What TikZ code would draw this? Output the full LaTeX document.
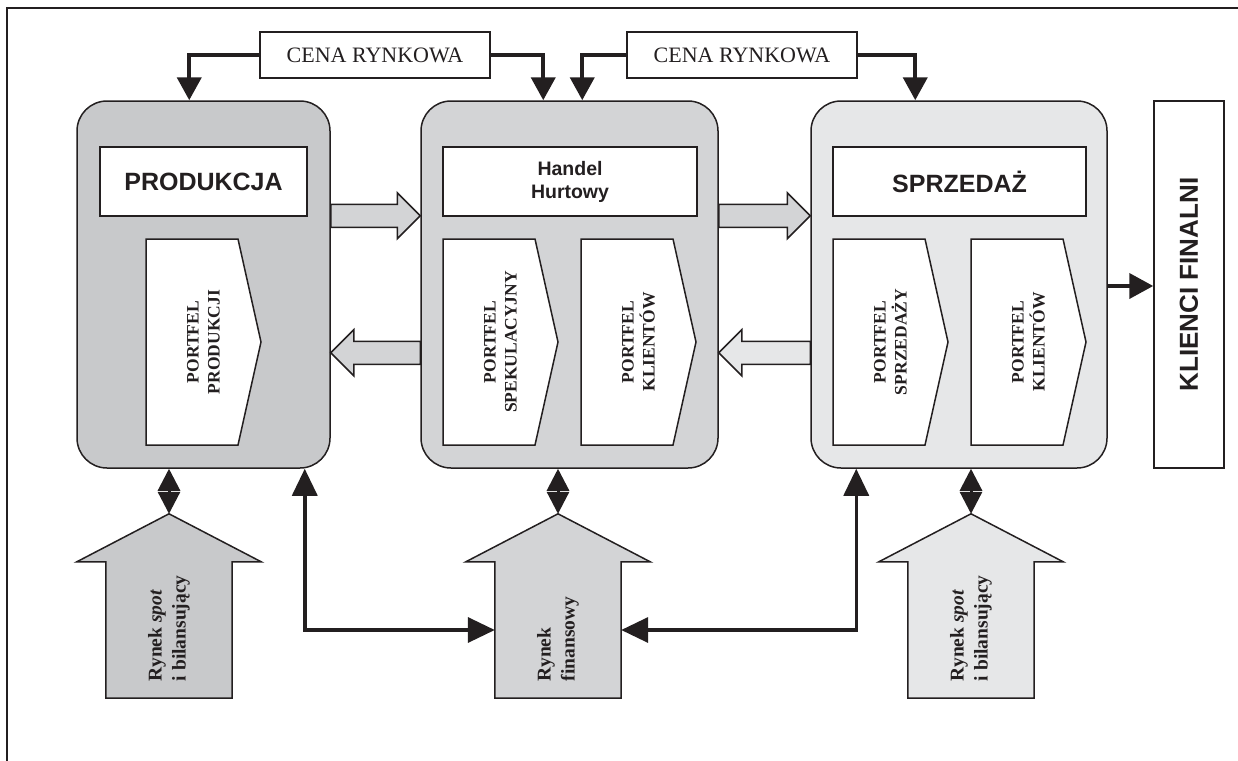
\documentclass[tikz,border=0pt]{standalone}
\usepackage{fontspec}
\setmainfont{Liberation Serif}
\setsansfont{Liberation Sans}
\usetikzlibrary{arrows.meta,calc}

\definecolor{ink}{HTML}{231F20}
\definecolor{greyA}{HTML}{C8C9CB}
\definecolor{greyB}{HTML}{D3D4D6}
\definecolor{greyC}{HTML}{E6E7E8}

% broad arrow pointing right: #1 start, #2 tip, #3 fill
\newcommand\fatright[3]{%
  \filldraw[outline, fill=#3] ($(#1)+(0,-11.5)$) -- ($(#2)+(-23,-11.5)$) -- ($(#2)+(-23,-23)$)
    -- (#2) -- ($(#2)+(-23,23)$) -- ($(#2)+(-23,11.5)$) -- ($(#1)+(0,11.5)$) -- cycle;}
% broad arrow pointing left: #1 start, #2 tip, #3 fill
\newcommand\fatleft[3]{%
  \filldraw[outline, fill=#3] ($(#1)+(0,-11.5)$) -- ($(#2)+(23,-11.5)$) -- ($(#2)+(23,-23)$)
    -- (#2) -- ($(#2)+(23,23)$) -- ($(#2)+(23,11.5)$) -- ($(#1)+(0,11.5)$) -- cycle;}
% portfolio tag: #1 name, #2 left x, #3 text
\newcommand\portfel[3]{%
  \filldraw[outline, fill=white] (#2,239) -- ++(92,0) -- ++(23,103) -- ++(-23,103) -- (#2,445) -- cycle;
  \node[ptext] (#1) at (#2+57.5,342) {#3};}
% market arrow pointing up: #1 name, #2 centre x, #3 fill, #4 text
\newcommand\market[4]{%
  \node[inner sep=0pt, minimum width=126pt, minimum height=136pt] (#1) at (#2,630) {};
  \filldraw[outline, fill=#3] (#1.south west) -- (#1.north west) -- ++(-29,0)
    -- ($(#1.north)+(0,-48)$) -- ($(#1.north east)+(29,0)$) -- (#1.north east) -- (#1.south east) -- cycle;
  \coordinate (#1tip) at ($(#1.north)+(0,-48)$);
  \node[rtext] (#1txt) at ($(#1.south)+(0,-17)$) {#4};}

\tikzset{
  outline/.style={draw=ink, line width=1.5pt, line join=miter},
  block/.style={outline, rounded corners=30pt, inner sep=0pt, minimum height=367pt},
  headbox/.style={outline, fill=white, inner sep=0pt, minimum height=69pt, align=center, text=ink,
    font=\sffamily\bfseries\fontsize{25}{30}\selectfont},
  cbox/.style={outline, fill=white, inner sep=0pt, minimum width=230pt, minimum height=46pt, text=ink,
    font=\fontsize{22}{26}\selectfont},
  ptext/.style={rotate=90, align=center, text=ink, inner sep=0pt,
    font=\bfseries\fontsize{17.5}{21}\selectfont},
  rtext/.style={rotate=90, anchor=west, align=left, text=ink, inner sep=0pt,
    font=\bfseries\fontsize{19.5}{24}\selectfont},
  price/.style={draw=ink, line width=4.3pt, -{Triangle[length=23pt,width=24pt]}},
  twoway/.style={draw=ink, line width=3pt,
    {Triangle[length=22pt,width=22pt]}-{Triangle[length=22pt,width=22pt]}},
  link/.style={draw=ink, line width=3.5pt,
    {Triangle[length=27pt,width=25pt]}-{Triangle[length=27pt,width=25pt]}},
  final/.style={draw=ink, line width=4pt, -{Triangle[length=24pt,width=25pt]}},
}

\begin{document}
\begin{tikzpicture}[x=1pt, y=-1pt]
\useasboundingbox (0,0) rectangle (1238,760);
% outer frame
\draw[draw=ink, line width=1.3pt] (7,8) rectangle (1260,790);

% the three stages
\node[block, fill=greyA, minimum width=253pt] (b1) at (203.5,284.5) {};
\node[block, fill=greyB, minimum width=297pt] (b2) at (569.5,284.5) {};
\node[block, fill=greyC, minimum width=296pt] (b3) at (959,284.5) {};

\node[headbox, minimum width=207pt] (h1) at (203.5,181.5) {PRODUKCJA};
\node[headbox, minimum width=254pt, font=\sffamily\bfseries\fontsize{19.5}{23}\selectfont] (h2) at (570,181.5) {Handel\\Hurtowy};
\node[headbox, minimum width=253pt] (h3) at (959.5,181.5) {SPRZEDAŻ};

\portfel{p1}{146}{PORTFEL\\PRODUKCJI}
\portfel{p2}{443}{PORTFEL\\SPEKULACYJNY}
\portfel{p3}{581}{PORTFEL\\KLIENTÓW}
\portfel{p4}{833}{PORTFEL\\SPRZEDAŻY}
\portfel{p5}{971}{PORTFEL\\KLIENTÓW}

% flows between the stages
\coordinate (f1s) at ($(b1.north east)+(0,115.5)$);
\coordinate (f1e) at ($(b2.north west)+(0,115.5)$);
\coordinate (f2s) at ($(b2.north east)+(0,115.5)$);
\coordinate (f2e) at ($(b3.north west)+(0,115.5)$);
\coordinate (g1s) at ($(b2.north west)+(0,252.5)$);
\coordinate (g1e) at ($(b1.north east)+(0,252.5)$);
\coordinate (g2s) at ($(b3.north west)+(0,252.5)$);
\coordinate (g2e) at ($(b2.north east)+(0,252.5)$);
\fatright{f1s}{f1e}{greyB}
\fatright{f2s}{f2e}{greyB}
\fatleft{g1s}{g1e}{greyB}
\fatleft{g2s}{g2e}{greyC}

% market price
\node[cbox] (c1) at (375,55) {CENA RYNKOWA};
\node[cbox] (c2) at (742,55) {CENA RYNKOWA};
\draw[price] (c1.west) -| ($(b1.north west)+(113,0)$);
\draw[price] (c1.east) -| ($(b2.north west)+(123,0)$);
\draw[price] (c2.west) -| ($(b2.north west)+(162,0)$);
\draw[price] (c2.east) -| ($(b3.north west)+(105,0)$);

% final customers
\node[outline, fill=white, inner sep=0pt, minimum width=70pt, minimum height=367pt] (k) at (1189,284.5) {};
\node[rotate=90, text=ink, inner sep=0pt, font=\sffamily\bfseries\fontsize{26}{30}\selectfont] (kt) at (k.center) {KLIENCI FINALNI};
\draw[final] ($(b3.east)+(0,1.5)$) -- ($(k.west)+(0,1.5)$);

% markets
\market{r1}{169}{greyA}{Rynek \textit{spot}\\i bilansujący}
\market{r2}{558}{greyB}{Rynek\\finansowy}
\market{r3}{971}{greyC}{Rynek \textit{spot}\\i bilansujący}

\draw[twoway] (b1.south -| r1tip) -- (r1tip);
\draw[twoway] (b2.south -| r2tip) -- (r2tip);
\draw[twoway] (b3.south -| r3tip) -- (r3tip);

\draw[link] ($(b1.south east)+(-26,0)$) |- (r2.west);
\draw[link] (r2.east) -| ($(b3.south west)+(46,0)$);
\end{tikzpicture}
\end{document}
